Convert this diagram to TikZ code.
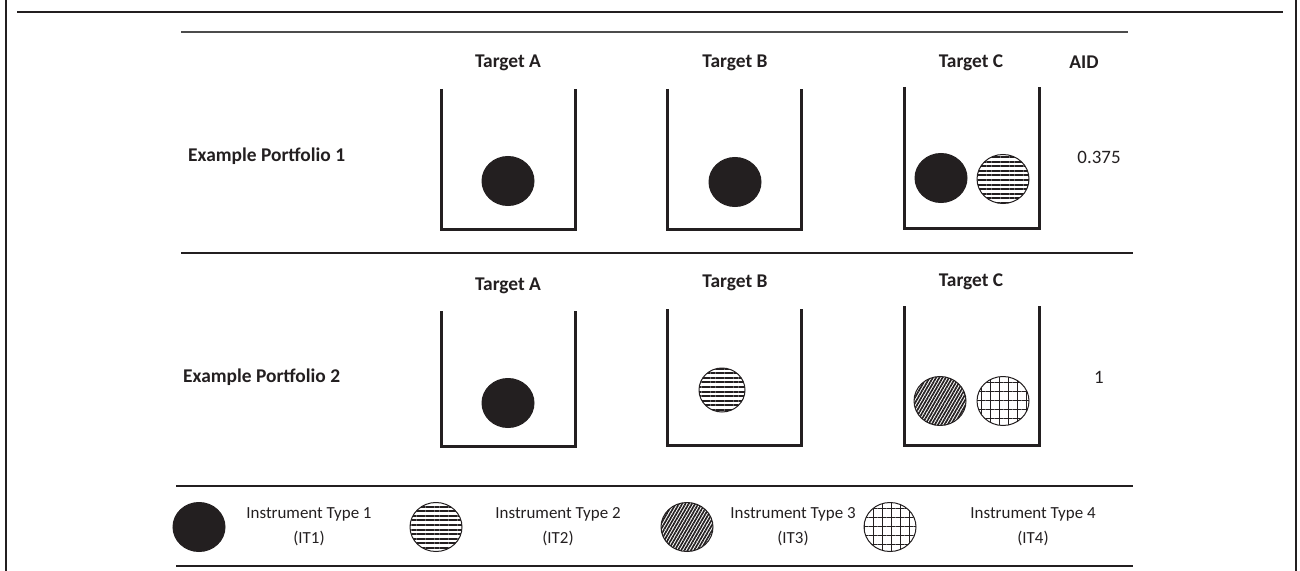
\documentclass[tikz,border=0pt]{standalone}
\usepackage{fontspec}
\setmainfont{Carlito}
\usetikzlibrary{patterns.meta,shapes.geometric}
\definecolor{ink}{RGB}{35,31,32}
\begin{document}
\begin{tikzpicture}[x=1bp,y=-1bp,
  frame/.style={line width=2.5bp, draw=ink},
  cup/.style={line width=3bp, draw=ink},
  hdr/.style={font=\fontsize{19.5}{22}\selectfont\bfseries, inner sep=0, text=ink},
  val/.style={font=\fontsize{19}{22}\selectfont, inner sep=0, text=ink},
  lbl/.style={font=\fontsize{17}{25}\selectfont, inner sep=0, align=center, text=ink},
  ball/.style={ellipse, minimum width=52bp, minimum height=49bp, inner sep=0, draw=ink, line width=1bp},
  it1/.style={ball, fill=ink},
  it2/.style={ball, pattern={Lines[angle=0,distance=4.6bp,line width=2bp]}, pattern color=ink},
  it3/.style={ball, pattern={Lines[angle=60,distance=2.8bp,line width=1.7bp]}, pattern color=ink},
  it4/.style={ball, pattern={Hatch[angle=0,distance=9bp,line width=0.8bp]}, pattern color=ink},
]
\useasboundingbox (0,0) rectangle (1300,571);
% outer frame
\draw[frame] (6,0) -- (6,571);
\draw[frame] (1296,0) -- (1296,571);
\draw[frame] (17,12) -- (1283,12);
\draw[line width=1.5bp, draw=black!70] (181,32) -- (1128,32);
\draw[line width=1.5bp, draw=ink] (181,253) -- (1133,253);
\draw[frame] (176,486) -- (1133,486);
\draw[frame] (176,566) -- (1133,566);

% row 1
\node[hdr] (hA1) at (508,63) {Target A};
\node[hdr] (hB1) at (735,63) {Target B};
\node[hdr] (hC1) at (971,63) {Target C};
\node[hdr] (aid) at (1084,62) {AID};
\node[hdr, anchor=west] (p1) at (188,156) {Example Portfolio 1};
\node[val] (v1) at (1099,157) {0.375};
\draw[cup] (441,89) -- (441,229) -- (575,229) -- (575,89);
\draw[cup] (667,89) -- (667,229) -- (801,229) -- (801,89);
\draw[cup] (904,87) -- (904,228) -- (1039,228) -- (1039,87);
\node[it1] (a1) at (508,181) {};
\node[it1] (b1) at (735,182) {};
\node[it1] (c1a) at (941,178) {};
\node[it2] (c1b) at (1003,179) {};

% row 2
\node[hdr] (hA2) at (508,286) {Target A};
\node[hdr] (hB2) at (735,283) {Target B};
\node[hdr] (hC2) at (971,282) {Target C};
\node[hdr, anchor=west] (p2) at (183,377) {Example Portfolio 2};
\node[val] (v2) at (1099,377) {1};
\draw[cup] (441,311) -- (441,446) -- (575,446) -- (575,311);
\draw[cup] (667,309) -- (667,445) -- (801,445) -- (801,309);
\draw[cup] (904,306) -- (904,445) -- (1039,445) -- (1039,306);
\node[it1] (a2) at (508,403) {};
\node[it2, minimum width=46bp, minimum height=44bp] (b2) at (722,390) {};
\node[it3] (c2a) at (940,401) {};
\node[it4] (c2b) at (1003,401) {};

% legend
\node[it1] (l1) at (199,527) {};
\node[lbl] (t1) at (309,527) {Instrument Type 1\\(IT1)};
\node[it2] (l2) at (436,527) {};
\node[lbl] (t2) at (558,527) {Instrument Type 2\\(IT2)};
\node[it3] (l3) at (687,527) {};
\node[lbl] (t3) at (793,527) {Instrument Type 3\\(IT3)};
\node[it4] (l4) at (890,527) {};
\node[lbl] (t4) at (1033,527) {Instrument Type 4\\(IT4)};
\end{tikzpicture}
\end{document}
